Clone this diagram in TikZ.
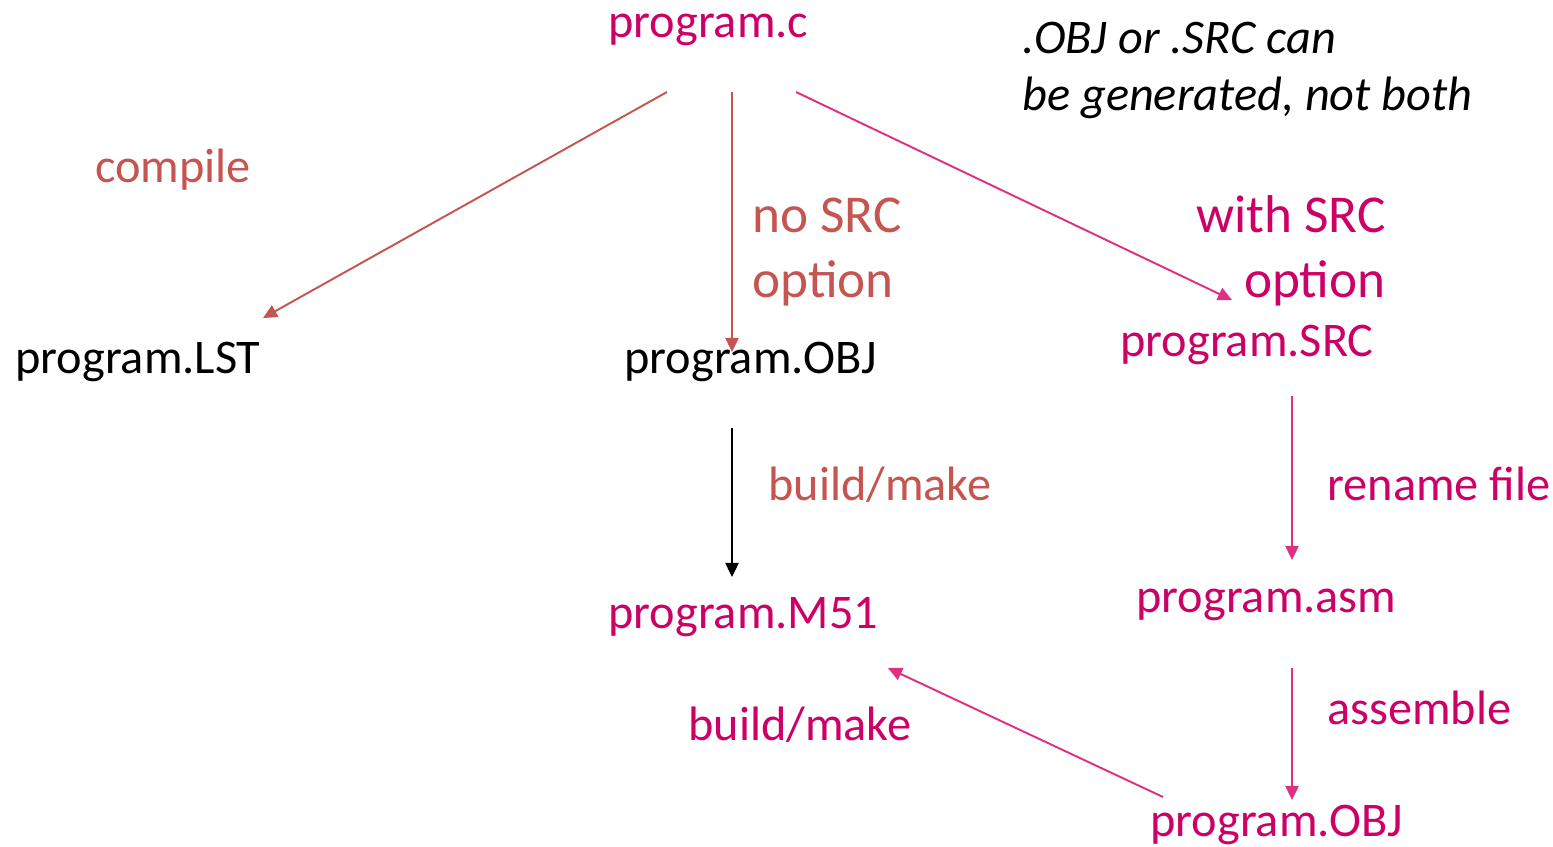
\documentclass[tikz,border=0pt]{standalone}
\usepackage{fontspec}
\setmainfont{Carlito}
\usetikzlibrary{arrows.meta}
\definecolor{filemag}{RGB}{204,0,102}
\definecolor{arrpink}{RGB}{224,48,128}
\definecolor{salmon}{RGB}{197,85,80}
\tikzset{
  fname/.style = {anchor=base west, inner sep=0pt, font=\fontsize{27.5}{32.3}\selectfont},
  lbl/.style   = {fname, align=left},
  blbl/.style  = {lbl, font=\fontsize{30.3}{36.9}\selectfont},
  sarr/.style  = {-{Triangle[length=8pt,width=7.5pt]}, line width=1.1pt, salmon},
  parr/.style  = {-{Triangle[length=8pt,width=7.5pt]}, line width=1.1pt, arrpink},
  karr/.style  = {-{Triangle[length=8pt,width=7.5pt]}, line width=1.1pt, black}
}

\begin{document}
\begin{tikzpicture}[x=0.02cm, y=-0.02cm]
\useasboundingbox (0,0) rectangle (1553,846);

%% files
\node[fname, filemag] (c)    at (608,37)  {program.c};
\node[fname]          (lst)  at (15,373)  {program.LST};
\node[fname]          (obj)  at (624,373) {program.OBJ};
\node[fname, filemag] (src)  at (1120,356) {program.SRC};
\node[fname, filemag] (asm)  at (1136,612) {program.asm};
\node[fname, filemag] (objb) at (1150,836) {program.OBJ};
\node[fname, filemag] (m51)  at (608,628) {program.M51};

%% labels (base = last line)
\node[lbl, font=\fontsize{27.5}{32.3}\itshape] (note) at (1022,110) {.OBJ or .SRC can\\be generated, not both};
\node[lbl, salmon]  (compile) at (95,182)  {compile};
\node[blbl, salmon] (nosrc)   at (752,297) {no SRC\\option};
\node[blbl, filemag, align=right, anchor=base east] (withsrc) at (1386,297) {with SRC\\option};
\node[lbl, filemag] (rename)  at (1327,500) {rename file};
\node[lbl, filemag] (assem)   at (1327,724) {assemble};
\node[lbl, salmon]  (build1)  at (768,500) {build/make};
\node[lbl, filemag] (build2)  at (688,740) {build/make};

%% compile step
\draw[sarr] ([shift={(59,55)}]c.base west)  -- ([shift={(248,-55)}]lst.base west);
\draw[sarr] ([shift={(124,55)}]c.base west) -- ([shift={(108,-21)}]obj.base west);
\draw[parr] ([shift={(188,55)}]c.base west) -- ([shift={(112,-56)}]src.base west);

%% build
\draw[karr] ([shift={(108,55)}]obj.base west) -- ([shift={(124,-51)}]m51.base west);

%% SRC route
\draw[parr] ([shift={(172,40)}]src.base west) -- ([shift={(156,-52)}]asm.base west);
\draw[parr] ([shift={(156,56)}]asm.base west) -- ([shift={(142,-36)}]objb.base west);
\draw[parr] ([shift={(13,-39)}]objb.base west) -- ([shift={(280,40)}]m51.base west);

\end{tikzpicture}
\end{document}
